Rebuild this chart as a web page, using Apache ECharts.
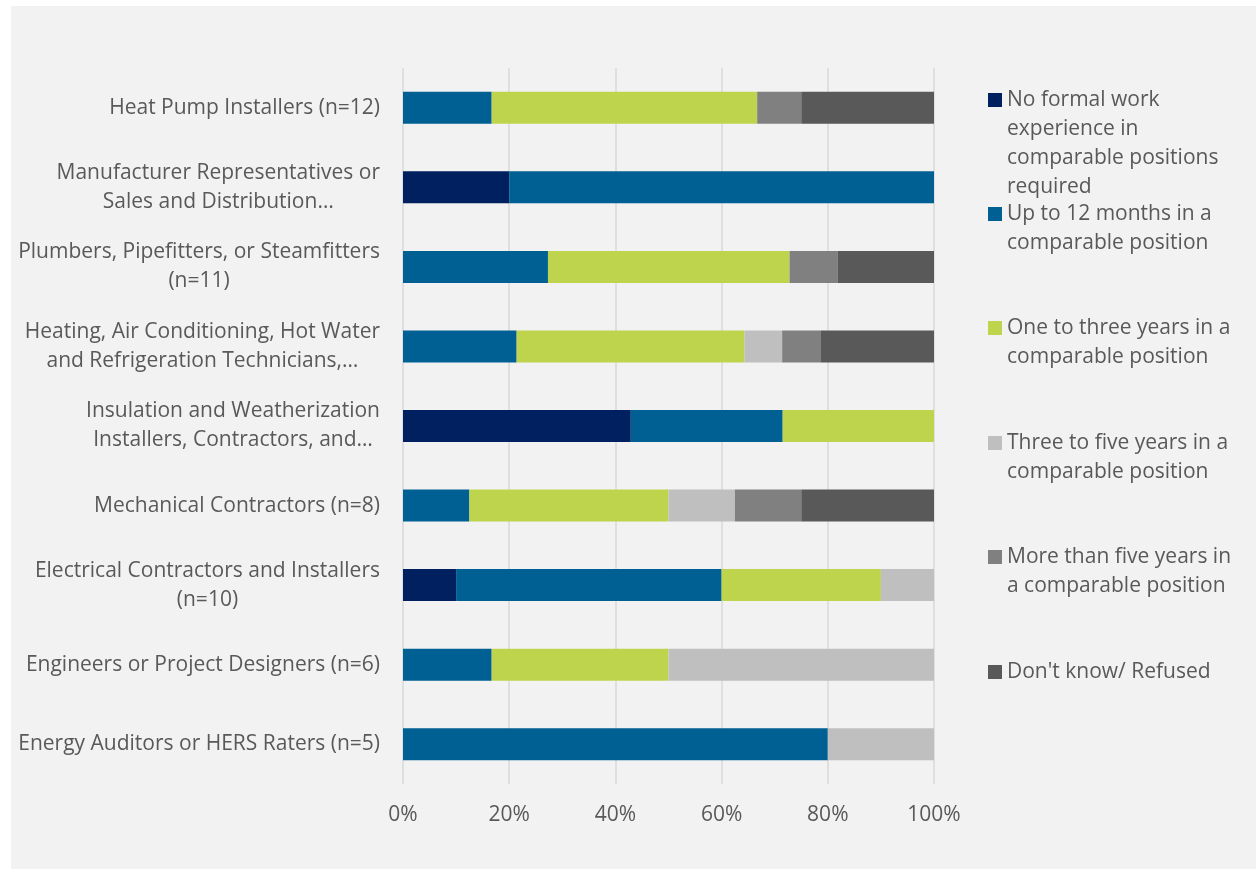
<!DOCTYPE html>
<html>
<head>
<meta charset="utf-8">
<script src="https://cdn.jsdelivr.net/npm/echarts@6/dist/echarts.min.js"></script>
<style>
  html, body { margin: 0; padding: 0; background: #ffffff; }
  #chart { position: absolute; left: 11px; top: 6px; width: 1245px; height: 863px; background: #f2f2f2; }
</style>
</head>
<body>
<div id="chart"></div>
<script>
// ---- data ----
const categories = [
  'Heat Pump Installers (n=12)',
  'Manufacturer Representatives or\nSales and Distribution…',
  'Plumbers, Pipefitters, or Steamfitters\n(n=11)',
  'Heating, Air Conditioning, Hot Water\nand Refrigeration Technicians,…',
  'Insulation and Weatherization\nInstallers, Contractors, and…',
  'Mechanical Contractors (n=8)',
  'Electrical Contractors and Installers\n(n=10)',
  'Engineers or Project Designers (n=6)',
  'Energy Auditors or HERS Raters (n=5)'
];
const seriesNames = [
  'No formal work\nexperience in\ncomparable positions\nrequired',
  'Up to 12 months in a\ncomparable position',
  'One to three years in a\ncomparable position',
  'Three to five years in a\ncomparable position',
  'More than five years in\na comparable position',
  "Don't know/ Refused"
];
const noFormal     = [0,    20, 0,    0,    42.9, 0,    10, 0,    0];
const upTo12       = [16.7, 80, 27.3, 21.4, 28.6, 12.5, 50, 16.7, 80];
const oneToThree   = [50,   0,  45.5, 42.9, 28.5, 37.5, 30, 33.3, 0];
const threeToFive  = [0,    0,  0,    7.1,  0,    12.5, 10, 50,   20];
const moreThanFive = [8.3,  0,  9.1,  7.2,  0,    12.5, 0,  0,    0];
const dontKnow     = [25,   0,  18.1, 21.4, 0,    25,   0,  0,    0];
const xTicks = [0, 20, 40, 60, 80, 100];

const seriesData = [noFormal, upTo12, oneToThree, threeToFive, moreThanFive, dontKnow];
const colors = ['#002060', '#005F93', '#BED44C', '#BFBFBF', '#808080', '#595959'];

const FONT = '"Open Sans", sans-serif';
const FS = 21;
const LH = 29;
const TXT = '#595959';

const chart = echarts.init(document.getElementById('chart'), null, { renderer: 'canvas' });

// legend drawn as graphic (icon aligned with first text line)
const legendCenters = [94, 208, 322, 437, 551, 666];
const legendGraphics = [];
seriesNames.forEach((name, i) => {
  const c = legendCenters[i];
  legendGraphics.push({
    type: 'rect', left: 977, top: c - 7,
    shape: { width: 14, height: 14 },
    style: { fill: colors[i] }, silent: true
  });
  legendGraphics.push({
    type: 'text', left: 996, top: c - LH / 2,
    style: { text: name, font: FS + 'px ' + FONT, fill: TXT, lineHeight: LH, verticalAlign: 'top' },
    silent: true
  });
});

const option = {
  animation: false,
  backgroundColor: '#f2f2f2',
  grid: { left: 392, right: 322, top: 62, bottom: 85, containLabel: false },
  xAxis: {
    type: 'value', min: 0, max: 100, interval: 20,
    axisLine: { show: false }, axisTick: { show: false },
    splitLine: { show: true, lineStyle: { color: '#d9d9d9', width: 1.5 } },
    axisLabel: {
      margin: 21, color: TXT, fontFamily: FONT, fontSize: FS,
      formatter: v => xTicks.includes(v) ? v + '%' : ''
    }
  },
  yAxis: {
    type: 'category', data: categories, inverse: true,
    axisLine: { show: false }, axisTick: { show: false },
    axisLabel: {
      margin: 23, color: TXT, fontFamily: FONT, fontSize: FS, lineHeight: LH,
      align: 'right',
      formatter: v => v.split('\n').map(s => '{c|' + s + '}').join('\n'),
      rich: { c: { align: 'center', color: TXT, fontFamily: FONT, fontSize: FS, lineHeight: LH } }
    }
  },
  series: seriesNames.map((name, i) => ({
    name: name, type: 'bar', stack: 'total', barWidth: 32,
    itemStyle: { color: colors[i] },
    data: seriesData[i]
  })),
  graphic: legendGraphics
};
chart.setOption(option);
</script>
</body>
</html>
